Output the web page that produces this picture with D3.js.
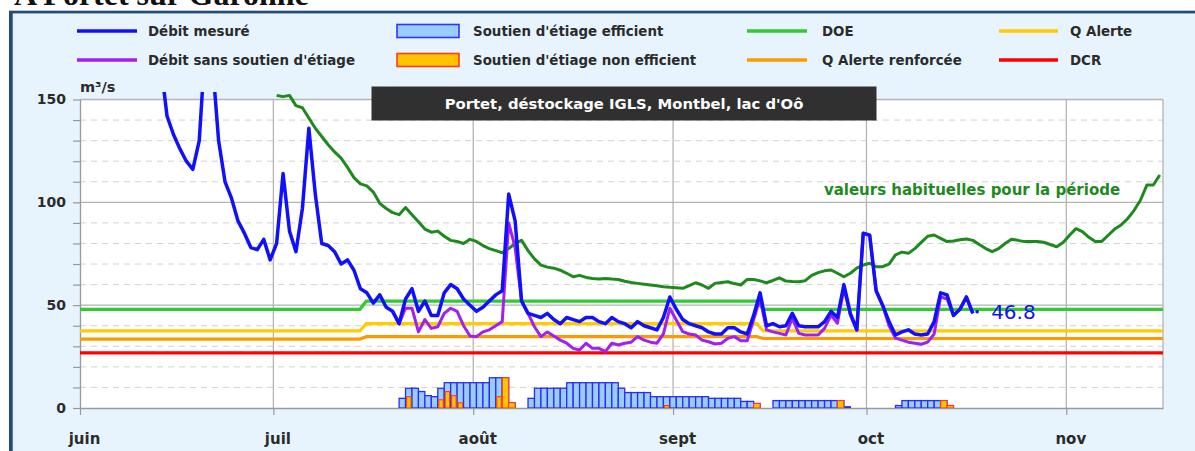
<!DOCTYPE html>
<html><head><meta charset="utf-8">
<script src="https://cdn.jsdelivr.net/npm/d3@7"></script>
<style>html,body{margin:0;padding:0;background:#fff;} svg{display:block;}</style>
</head><body>
<svg id="c" width="1195" height="451"></svg>
<script>
const YEAR = 2023;
const pageTitle = "A Portet sur Garonne";
const chartTitle = "Portet, déstockage IGLS, Montbel, lac d'Oô";
const unitLabel = "m³/s";
const habitualLabel = "valeurs habituelles pour la période";
const monthLabels = ["juin","juil","août","sept","oct","nov"];
const monthStarts = ["06-01","07-01","08-01","09-01","10-01","11-01"];
const domainStart = "06-01", domainEnd = "11-16";
const yLabelTicks = [0,50,100,150];
const yMinorStep = 10;

// Débit mesuré, daily from 13 June
const debitStart = "06-13";
const debitMesure = [168,142,133,126,120,116,130,180,170,130,110,102,91,85,78,77,82,72,80,114,86,76,97,136,104,80,79,76,70,72,67,58,56,51,55,49,47,41,53,58,47,52,45,45,56,60,58,53,50,47,49,52,55,57,104,91,52,46,45,44,46,43,41,44,43,42,44,44,42,41,44,42,41,39,42,40,39,38,44,54,48,43,41,40,39,37,36,36,39,39,37,36,45,56,40,41,39.5,40,46,40,39.5,39.5,39.5,42,47,44,60,46,38,85,84,57,50,42,35.5,37,38,36,35.5,36,42,56,55,45,48,54,46];
const lastValue = 46.8;

// Débit sans soutien d'étiage, daily from 19 July
const naturelStart = "07-19";
const debitNaturel = [47,41,48.5,48.5,37,43,38.7,39.5,46,48.5,47,40,35,34.7,37,38,40,42,90,78,52,46,39.5,34.7,37,35,33,31.5,29,28.2,31.5,29,29,27.4,31.5,30.6,31.5,32,34.7,33,32,31.5,36,48.5,42.8,37.1,36,35.5,33,32.2,31.1,31.5,33.9,34.7,32.7,32.7,43,53.3,38,37,36.3,35.5,43.6,36.3,35.5,35.5,35.5,38.7,45.2,41.2,58.2,45.2,38,85,84,57,50,40,34,33,32,31.5,31,32,36,54,53,45,48,54,46];

// Valeurs habituelles, daily from 1 July
const habituelStart = "07-01";
const debitHabituel = [152,151.4,152,147,146,141,136,132,128,124.5,121.5,117,112,109,108,105,99.5,97,95,94,97.5,94,90.5,87,85.5,86,83.5,81.5,81,80,82,81,79,77.5,76.5,75.5,77.5,80,81.5,76.5,72.5,69.5,68.5,68,67,65.5,63.8,64.5,63.5,63,62.7,63,62.7,62.5,61.6,61,60.6,60.2,59.8,59.4,59,58.7,58.5,58.2,59.5,60.9,59.8,58.2,60.6,61,61.4,60.5,59.8,62.5,62.5,61.8,60.9,62,63.3,61.7,61.5,61.4,61.9,64.5,65.8,66.7,67.1,65.5,63.8,65.5,68,69.5,70.4,68.7,68.7,70,74.5,75.8,75.2,77.5,80.5,83.5,84.1,82.5,80.9,81.2,81.8,82.2,81.5,79.5,77.5,76,77.5,80,82,81.5,80.9,80.9,80.9,80.6,79.5,78.4,80.5,84,87.2,85.8,83,81,81,84,87,89,92,96,101,108.4,108.4,113.3];

// Soutien d'étiage, daily from 21 July (total, and non efficient part)
const soutienStart = "07-21";
const soutienTotal = [4.7,9.6,9.6,8,6,5.5,9.6,12.3,12.3,12.3,12.3,12.3,12.3,12.3,14.7,14.7,14.7,2.6,0,0,4.7,9.6,9.6,9.6,9.6,9.6,12.3,12.3,12.3,12.3,12.3,12.3,12.3,12.3,9.6,7.5,7.5,7.5,7.5,5.5,5.5,5.5,5.5,5.5,5.5,5.5,5.5,5.5,4.7,4.7,4.7,4.7,4.7,3.2,3.2,2.2,0,0,3.6,3.6,3.6,3.6,3.6,3.6,3.6,3.6,3.6,3.6,3.6,0.6,0,0,0,0,0,0,0,1.2,3.6,3.6,3.6,3.6,3.6,3.6,3.6,1.2];
const soutienNonEff = [0,5.5,0,0,0,0,4,8,6,2.5,0,0,0,0,0,5.5,14.7,2.6,0,0,0,0,0,0,0,0,0,0,0,0,0,0,0,0,0,0,0,0,0,0,0,1.2,0,0,0,0,0,0,0,0,0,0,0,0,0,2.2,0,0,0,0,0,0,0,0,0,0,0,0,3.6,0,0,0,0,0,0,0,0,0,0,0,0,0,0,0,3.6,1.2];

// Thresholds (breakpoints)
const seuilDates = ["06-01T00","07-14T10","07-15T10","09-14T00","09-15T00","11-16T00"];
const seuilDOE = [48,48,52,52,48,48];
const seuilAlerte = [37.5,37.5,41,41,37.5,37.5];
const seuilAlerteRenf = [33.5,33.5,34.7,34.7,33.8,33.8];
const seuilDCR = [26.8,26.8,26.8,26.8,26.8,26.8];

const C = {
  blue:"#1010ff", purple:"#a020f0", habit:"#1e8a1e", doe:"#2ecc2e",
  alerte:"#ffcc00", renf:"#ff9900", dcr:"#ff0000",
  barFill:"#99ccff", barStroke:"#2a2aff", neFill:"#ffc400", neStroke:"#ff3b1a",
  text:"#2b2b2b", grid:"#b4b4b4", minor:"#d2d2d2", frame:"#22497a", bg:"#e8f4fd"
};
const FONT = "'DejaVu Sans', Verdana, sans-serif";

const W = 1195, H = 451;
const P = {l:80, r:1163, t:99.5, b:408};
const parse = s => new Date(`${YEAR}-${s}${s.includes("T") ? ":00:00Z" : "T00:00:00Z"}`);
const dayOf = (start, i, hours=0) => d3.utcHour.offset(d3.utcDay.offset(parse(start), i), hours);

const x = d3.scaleUtc().domain([parse(domainStart), parse(domainEnd)]).range([P.l, P.r]);
const y = d3.scaleLinear().domain([0,150]).range([P.b, P.t]);
const dayW = x(parse("06-02")) - x(parse("06-01"));

const svg = d3.select("#c");
svg.append("rect").attr("width",W).attr("height",H).attr("fill","#fff");
svg.append("rect").attr("x",9).attr("y",10.7).attr("width",W).attr("height",H).attr("fill",C.frame);
svg.append("rect").attr("x",12.7).attr("y",13.4).attr("width",W).attr("height",H).attr("fill",C.bg);
svg.append("text").attr("x",14).attr("y",5).attr("font-family","'Liberation Serif', serif")
  .attr("font-weight","bold").attr("font-size",32).attr("fill","#111").text(pageTitle);

// plot area
svg.append("rect").attr("x",P.l).attr("y",P.t).attr("width",P.r-P.l).attr("height",P.b-P.t).attr("fill","#fff");

const grid = svg.append("g");
const minorVals = d3.range(yMinorStep,150,yMinorStep).filter(v => !yLabelTicks.includes(v));
grid.selectAll("line.minor").data(minorVals).join("line")
  .attr("x1",P.l).attr("x2",P.r).attr("y1",d=>y(d)).attr("y2",d=>y(d))
  .attr("stroke",C.minor).attr("stroke-width",1).attr("stroke-dasharray","6,5");
grid.selectAll("line.major").data(yLabelTicks.filter(v=>v>0)).join("line")
  .attr("x1",P.l).attr("x2",P.r).attr("y1",d=>y(d)).attr("y2",d=>y(d))
  .attr("stroke",C.grid).attr("stroke-width",1.3);
const monthDates = monthStarts.map(parse);
grid.selectAll("line.month").data(monthDates.slice(1)).join("line")
  .attr("x1",d=>x(d)).attr("x2",d=>x(d)).attr("y1",P.t).attr("y2",P.b)
  .attr("stroke",C.grid).attr("stroke-width",1.3);
grid.append("line").attr("x1",P.r).attr("x2",P.r).attr("y1",P.t).attr("y2",P.b).attr("stroke",C.grid).attr("stroke-width",1.3);

// axes
const yAxis = svg.append("g").attr("transform",`translate(${P.l},0)`)
  .call(d3.axisLeft(y).tickValues(d3.range(0,151,yMinorStep)).tickSize(7).tickPadding(7).tickSizeOuter(0)
    .tickFormat(d => yLabelTicks.includes(d) ? d : ""));
const xAxis = svg.append("g").attr("transform",`translate(0,${P.b})`)
  .call(d3.axisBottom(x).tickValues(monthDates).tickSize(7).tickPadding(18).tickSizeOuter(0)
    .tickFormat((d,i) => monthLabels[i]));
[yAxis, xAxis].forEach(g => {
  g.select(".domain").attr("stroke","#999").attr("stroke-width",1.3);
  g.selectAll(".tick line").attr("stroke","#999").attr("stroke-width",1.2);
  g.selectAll("text").attr("font-family",FONT).attr("font-weight","bold").attr("fill",C.text);
});
yAxis.selectAll("text").attr("font-size",14);
xAxis.selectAll("text").attr("font-size",15).attr("x",4);

svg.append("text").attr("x",P.l).attr("y",92).attr("font-family",FONT).attr("font-weight","bold")
  .attr("font-size",14.5).attr("fill",C.text).text(unitLabel);

// clip
svg.append("clipPath").attr("id","clip").append("rect").attr("x",P.l).attr("y",92).attr("width",P.r-P.l).attr("height",P.b-92);
const plotG = svg.append("g").attr("clip-path","url(#clip)");

// bars
const bars = soutienTotal.map((v,i)=>({date:dayOf(soutienStart,i), v, ne:soutienNonEff[i]}));
plotG.append("g").selectAll("rect").data(bars.filter(d=>d.v>0)).join("rect")
  .attr("x",d=>x(d.date)-dayW/2).attr("width",dayW)
  .attr("y",d=>y(d.v)).attr("height",d=>y(0)-y(d.v))
  .attr("fill",C.barFill).attr("stroke",C.barStroke).attr("stroke-width",1.3);
plotG.append("g").selectAll("rect").data(bars.filter(d=>d.ne>0)).join("rect")
  .attr("x",d=>x(d.date)-dayW*(d.ne>=d.v?0.5:0.35)).attr("width",d=>dayW*(d.ne>=d.v?1:0.7))
  .attr("y",d=>y(d.ne)).attr("height",d=>y(0)-y(d.ne))
  .attr("fill",C.neFill).attr("stroke",C.neStroke).attr("stroke-width",1.1);

// thresholds
const lineGen = d3.line().x(d=>x(d.date)).y(d=>y(d.v));
const seuils = [[seuilDCR,C.dcr],[seuilAlerteRenf,C.renf],[seuilAlerte,C.alerte],[seuilDOE,C.doe]];
seuils.forEach(([vals,col]) => {
  plotG.append("path").datum(vals.map((v,i)=>({date:parse(seuilDates[i]),v})))
    .attr("d",lineGen).attr("fill","none").attr("stroke",col).attr("stroke-width",3.2);
});

const series = (start, vals) => vals.map((v,i)=>({date:dayOf(start,i,12), v}));
const lineR = d3.line().x(d=>x(d.date)).y(d=>y(d.v)).curve(d3.curveLinear);
plotG.append("path").datum(series(habituelStart,debitHabituel)).attr("d",lineR)
  .attr("fill","none").attr("stroke",C.habit).attr("stroke-width",3).attr("stroke-linejoin","round");
plotG.append("path").datum(series(naturelStart,debitNaturel)).attr("d",lineR)
  .attr("fill","none").attr("stroke",C.purple).attr("stroke-width",3).attr("stroke-linejoin","round");
const mes = series(debitStart,debitMesure);
plotG.append("path").datum(mes).attr("d",lineR)
  .attr("fill","none").attr("stroke",C.blue).attr("stroke-width",3.5).attr("stroke-linejoin","round");

// last value marker
const lastDate = d3.utcHour.offset(mes[mes.length-1].date, 16);
svg.append("circle").attr("cx",x(lastDate)).attr("cy",y(lastValue)).attr("r",1.8).attr("fill",C.blue);
svg.append("text").attr("x",x(lastDate)+14).attr("y",y(lastValue)+7.5).attr("font-family",FONT)
  .attr("font-size",20).attr("fill",C.blue).text(lastValue);

// habitual label
svg.append("text").attr("x",972).attr("y",195).attr("text-anchor","middle").attr("font-family",FONT)
  .attr("font-weight","bold").attr("font-size",15).attr("fill",C.habit).text(habitualLabel);

// title box
svg.append("rect").attr("x",371.5).attr("y",86.5).attr("width",505).attr("height",34).attr("fill","#303030");
svg.append("text").attr("x",624).attr("y",109).attr("text-anchor","middle").attr("font-family",FONT)
  .attr("font-weight","bold").attr("font-size",14.8).attr("fill","#fff").text(chartTitle);

// legend
const legendItems = [
  {row:0,col:0,type:"line",color:C.blue,label:"Débit mesuré"},
  {row:1,col:0,type:"line",color:C.purple,label:"Débit sans soutien d'étiage"},
  {row:0,col:1,type:"rect",fill:C.barFill,stroke:"#3333ff",label:"Soutien d'étiage efficient"},
  {row:1,col:1,type:"rect",fill:C.neFill,stroke:C.neStroke,label:"Soutien d'étiage non efficient"},
  {row:0,col:2,type:"line",color:C.doe,label:"DOE"},
  {row:1,col:2,type:"line",color:C.renf,label:"Q Alerte renforcée"},
  {row:0,col:3,type:"line",color:C.alerte,label:"Q Alerte"},
  {row:1,col:3,type:"line",color:C.dcr,label:"DCR"}
];
const colSym = [77,397,747,999], colSymW = [60,62,60,59], colTxt = [148,473,822,1070], rowY = [31,60];
const lg = svg.append("g");
legendItems.forEach(it => {
  const cy = rowY[it.row];
  if (it.type==="line") {
    lg.append("line").attr("x1",colSym[it.col]).attr("x2",colSym[it.col]+colSymW[it.col])
      .attr("y1",cy).attr("y2",cy).attr("stroke",it.color).attr("stroke-width",3.5);
  } else {
    lg.append("rect").attr("x",colSym[it.col]).attr("y",cy-6.5).attr("width",colSymW[it.col]).attr("height",13)
      .attr("fill",it.fill).attr("stroke",it.stroke).attr("stroke-width",1.6);
  }
  lg.append("text").attr("x",colTxt[it.col]).attr("y",cy+5).attr("font-family",FONT).attr("font-weight","bold")
    .attr("font-size",13.4).attr("fill",C.text).text(it.label);
});
</script>
</body></html>
